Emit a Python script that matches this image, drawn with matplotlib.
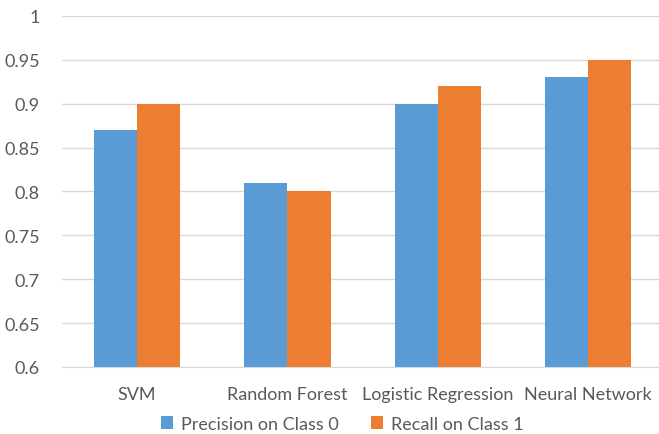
import matplotlib.pyplot as plt
import numpy as np

models = ['SVM', 'Random Forest', 'Logistic Regression', 'Neural Network']
precision_0 = [0.87, 0.81, 0.90, 0.93]
recall_1 = [0.90, 0.80, 0.92, 0.95]
yticks = [0.6, 0.65, 0.7, 0.75, 0.8, 0.85, 0.9, 0.95, 1]
ytick_labels = ['0.6', '0.65', '0.7', '0.75', '0.8', '0.85', '0.9', '0.95', '1']

plt.rcParams['font.family'] = ['Lato', 'DejaVu Sans']
grey = '#595959'

fig = plt.figure(figsize=(6.59, 4.35), dpi=100)
# plot area runs to the right edge of the figure
ax = fig.add_axes([62 / 659, 1 - 368 / 435, (659 - 62) / 659, (368 - 17) / 435])

x = np.arange(len(models))
w = 0.287
ax.bar(x - w / 2, precision_0, w, bottom=0, color='#5B9BD5', label='Precision on Class 0', zorder=3)
ax.bar(x + w / 2, recall_1, w, bottom=0, color='#ED7D31', label='Recall on Class 1', zorder=3)

ax.set_xlim(-0.5, 3.472)
ax.set_ylim(0.6, 1.0)
ax.set_yticks(yticks)
ax.set_yticklabels(ytick_labels)
ax.set_xticks(x)
ax.set_xticklabels(models)
ax.tick_params(axis='both', length=0, labelsize=13, colors=grey)
ax.tick_params(axis='x', pad=14)
ax.tick_params(axis='y', pad=16)
ax.grid(axis='y', color='#D9D9D9', linewidth=1, zorder=0)
for s in ['top', 'right', 'left']:
    ax.spines[s].set_visible(False)
ax.spines['bottom'].set_color('#D9D9D9')
ax.spines['bottom'].set_zorder(4)

leg = fig.legend(loc='center', bbox_to_anchor=(342 / 659, 1 - 425 / 435), ncol=2, frameon=False,
                 fontsize=13, handlelength=0.7, handleheight=0.7, handletextpad=0.4,
                 columnspacing=1.8)
for t in leg.get_texts():
    t.set_color(grey)

fig.savefig('out.png', dpi=100)
